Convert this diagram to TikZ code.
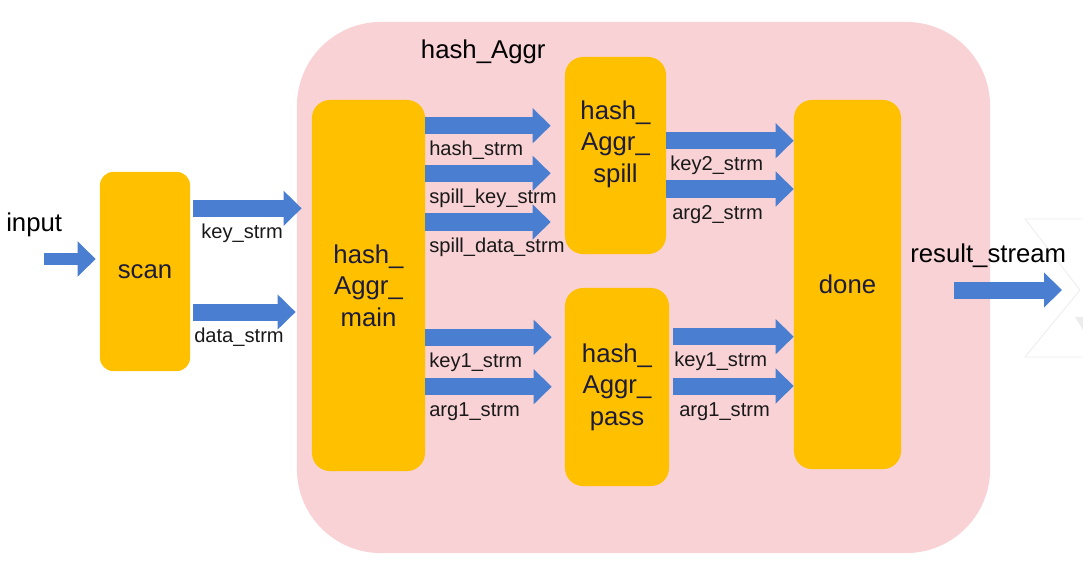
\documentclass[tikz,border=0pt]{standalone}
\usepackage{fontspec}
\setmainfont{Liberation Sans}
\usetikzlibrary{arrows.meta,positioning}
\definecolor{AggPink}{HTML}{F9D2D5}
\definecolor{AggOrange}{HTML}{FFC000}
\definecolor{AggBlue}{HTML}{4A7ED0}
\definecolor{AggInk}{HTML}{1C1C3A}
\definecolor{AggGhost}{HTML}{ECECEC}

\begin{document}
\begin{tikzpicture}[
    x=0.025cm, y=-0.025cm,
    blk/.style={
      fill=AggOrange,
      rounded corners=0.45cm,
      inner sep=0pt,
      align=center,
      text=AggInk,
      font=\fontsize{18.3}{22.3}\selectfont
    },
    arr/.style={
      -{Triangle[length=0.45cm,width=0.85cm]},
      line width=0.425cm,
      draw=AggBlue
    },
    lbl/.style={
      font=\fontsize{14.3}{17}\selectfont,
      text=black!90,
      anchor=base west,
      inner sep=0pt,
      outer sep=0pt,
      xshift=0.1cm,
      yshift=-0.75cm
    },
    big/.style={
      font=\fontsize{18.3}{22}\selectfont,
      anchor=base west,
      inner sep=0pt
    }
  ]
  \useasboundingbox (0,0) rectangle (1083,578);

  % Faint chevron at the right edge
  \draw[AggGhost, line width=0.6pt]
    (1083,219) -- (1025,219) -- (1080,290) -- (1025,357) -- (1083,357);
  \fill[AggGhost] (1075,317) -- (1083,317) -- (1083,330) -- cycle;

  % hash_Aggr container
  \node[fill=AggPink, rounded corners=2.1cm, minimum width=17.325cm,
        minimum height=13.275cm, inner sep=0pt] (hashaggr) at (643.5,287.5) {};
  \node[big] (aggrtitle) at (420.7,58.3) {hash\_Aggr};

  % Blocks
  \node[blk, rounded corners=0.33cm, minimum width=2.25cm,
        minimum height=4.975cm] (scan) at (145,271.5) {scan};
  \node[blk, minimum width=2.825cm, minimum height=9.275cm]
    (main) at (368.5,285.5) {hash\_\\Aggr\_\\main};
  \node[blk, minimum width=2.525cm, minimum height=4.925cm]
    (spill) at (615.5,155.5) {};
  \node[blk, fill=none] (spilltxt) at (615.5,144) {hash\_\\Aggr\_\\spill};
  \node[blk, minimum width=2.6cm, minimum height=4.95cm]
    (pass) at (617,387) {hash\_\\Aggr\_\\pass};
  \node[blk, minimum width=2.675cm, minimum height=9.225cm]
    (done) at (847.5,284.5) {done};

  % Input
  \node[big] (inputtxt) at (6,231.5) {input};
  \coordinate (inputtail) at (44,259);
  \draw[arr, line width=0.31cm, shorten >=0.1cm]
    (inputtail) -- (scan.west |- inputtail);

  % scan -> hash_Aggr
  \draw[arr, shorten <=0.075cm, shorten >=-0.125cm]
    (scan.east |- 0,208.3) -- (hashaggr.west |- 0,208.3)
    node[lbl, pos=0, xshift=0.175cm] {key\_strm};
  \draw[arr, shorten <=0.075cm, shorten >=0.025cm]
    (scan.east |- 0,312) -- (hashaggr.west |- 0,312)
    node[lbl, pos=0] {data\_strm};

  % main -> spill
  \draw[arr, shorten >=0.35cm] (main.east |- 0,125.7) -- (spill.west |- 0,125.7)
    node[lbl, pos=0] {hash\_strm};
  \draw[arr, shorten >=0.35cm] (main.east |- 0,173.3) -- (spill.west |- 0,173.3)
    node[lbl, pos=0] {spill\_key\_strm};
  \draw[arr, shorten >=0.35cm] (main.east |- 0,222) -- (spill.west |- 0,222)
    node[lbl, pos=0] {spill\_data\_strm};

  % main -> pass
  \draw[arr, shorten >=0.325cm] (main.east |- 0,337.3) -- (pass.west |- 0,337.3)
    node[lbl, pos=0] {key1\_strm};
  \draw[arr, shorten >=0.325cm] (main.east |- 0,386.7) -- (pass.west |- 0,386.7)
    node[lbl, pos=0] {arg1\_strm};

  % spill -> done
  \draw[arr] (spill.east |- 0,140.7) -- (done.west |- 0,140.7)
    node[lbl, pos=0] {key2\_strm};
  \draw[arr] (spill.east |- 0,189) -- (done.west |- 0,189)
    node[lbl, pos=0, xshift=0.05cm] {arg2\_strm};

  % pass -> done
  \draw[arr, shorten <=0.1cm] (pass.east |- 0,336.7) -- (done.west |- 0,336.7)
    node[lbl, pos=0, xshift=0.025cm] {key1\_strm};
  \draw[arr, shorten <=0.1cm] (pass.east |- 0,386) -- (done.west |- 0,386)
    node[lbl, pos=0, xshift=0.15cm] {arg1\_strm};

  % Result
  \coordinate (resulthead) at (1062,290);
  \draw[arr, shorten <=1.325cm] (done.east |- resulthead) -- (resulthead);
  \node[big] (resulttxt) at (910,262.5) {result\_stream};
\end{tikzpicture}
\end{document}
